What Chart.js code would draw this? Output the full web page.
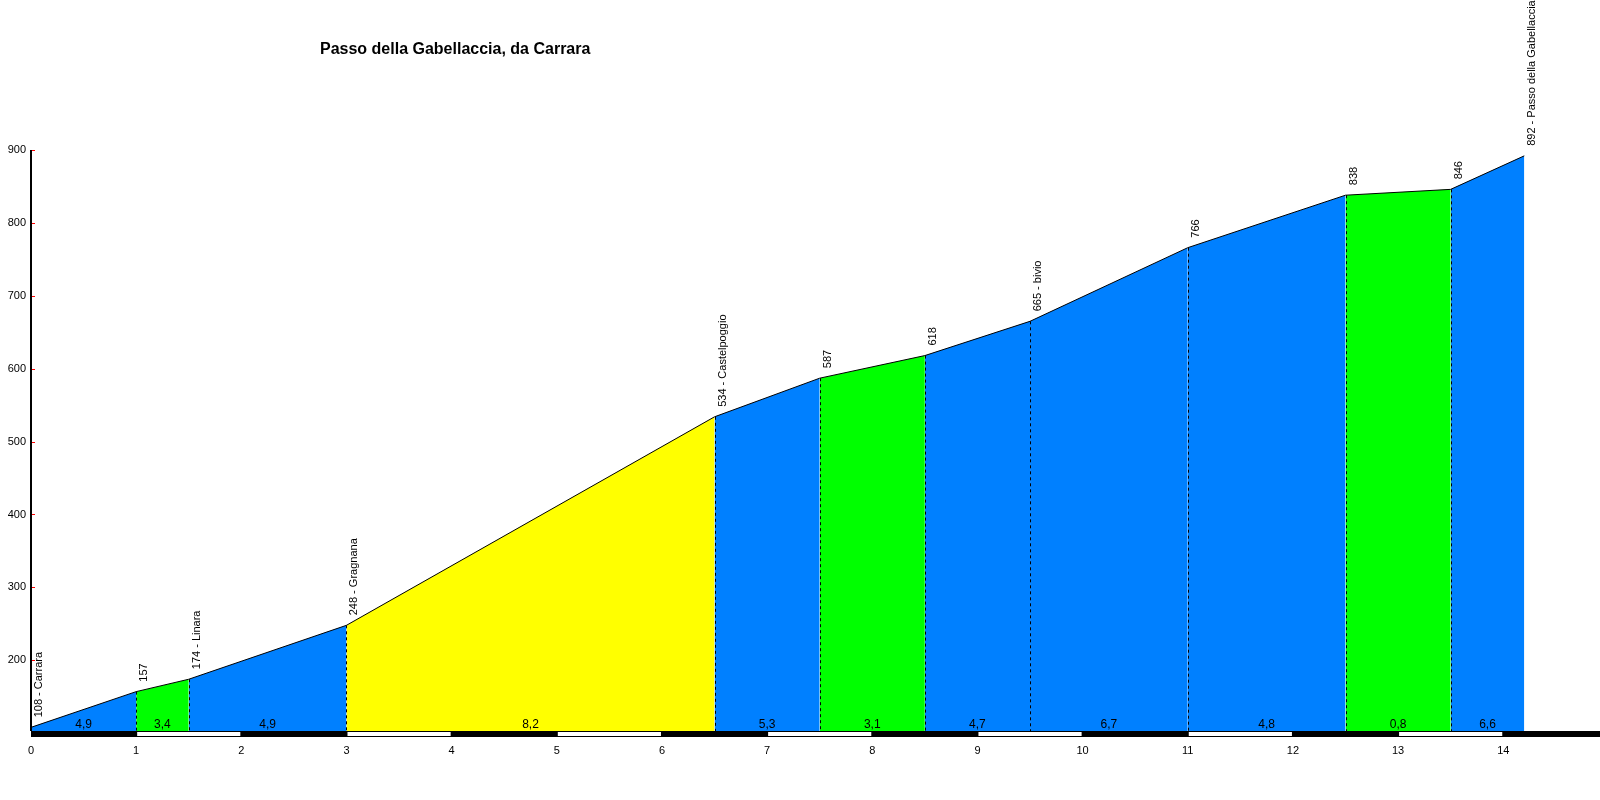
<!DOCTYPE html>
<html>
<head>
<meta charset="utf-8">
<title>Passo della Gabellaccia, da Carrara</title>
<script src="https://cdn.jsdelivr.net/npm/chart.js@4.4.0/dist/chart.umd.min.js"></script>
<style>
  html, body { margin: 0; padding: 0; background: #fff; }
  canvas { display: block; }
</style>
</head>
<body>
<canvas id="profilo" width="1600" height="800"></canvas>
<script>
const titolo = 'Passo della Gabellaccia, da Carrara';
const distanze = [0, 1, 1.5, 3, 6.5, 7.5, 8.5, 9.5, 11, 12.5, 13.5, 14.2];
const quote = [108, 157, 174, 248, 534, 587, 618, 665, 766, 838, 846, 892];
const localita = ['Carrara', '', 'Linara', 'Gragnana', 'Castelpoggio', '', '', 'bivio', '', '', '', 'Passo della Gabellaccia'];
const pendenze = [4.9, 3.4, 4.9, 8.2, 5.3, 3.1, 4.7, 6.7, 4.8, 0.8, 6.6];
const tickKm = [0, 1, 2, 3, 4, 5, 6, 7, 8, 9, 10, 11, 12, 13, 14];
const tickQuota = [200, 300, 400, 500, 600, 700, 800, 900];

const FONT = "'Liberation Sans', Arial, sans-serif";

// colore del tratto in base alla pendenza
function coloreTratto(p) {
    if (p < 4) return '#00ff00';
    if (p < 8) return '#0080ff';
    return '#ffff00';
}

const punti = distanze.map((d, i) => ({ x: d, y: quote[i] }));

const datasets = [{
    data: punti,
    borderColor: '#000',
    borderWidth: 1,
    pointRadius: 0,
    fill: false,
    tension: 0
}];

pendenze.forEach((p, i) => {
    datasets.push({
        data: [punti[i], punti[i + 1]],
        borderWidth: 0,
        pointRadius: 0,
        backgroundColor: coloreTratto(p),
        fill: 'start',
        tension: 0
    });
});

const disegnaExtra = {
    id: 'disegnaExtra',
    afterDatasetsDraw(chart) {
        const { ctx, chartArea } = chart;
        const xs = chart.scales.x;
        const ys = chart.scales.y;
        const fondo = chartArea.bottom;

        ctx.save();

        // linee tratteggiate ai cambi di tratto
        ctx.strokeStyle = '#000';
        ctx.lineWidth = 1;
        ctx.setLineDash([3, 3]);
        for (let i = 1; i < distanze.length - 1; i++) {
            const x = Math.round(xs.getPixelForValue(distanze[i])) + 0.5;
            ctx.beginPath();
            ctx.moveTo(x, ys.getPixelForValue(quote[i]));
            ctx.lineTo(x, fondo);
            ctx.stroke();
        }
        ctx.setLineDash([]);

        // pendenze dei tratti
        ctx.fillStyle = '#000';
        ctx.font = '12px ' + FONT;
        ctx.textAlign = 'center';
        ctx.textBaseline = 'middle';
        pendenze.forEach((p, i) => {
            const xm = xs.getPixelForValue((distanze[i] + distanze[i + 1]) / 2);
            ctx.fillText(p.toFixed(1).replace('.', ','), xm, fondo - 6);
        });

        // quote e località, testo verticale
        ctx.font = '11px ' + FONT;
        ctx.textAlign = 'left';
        ctx.textBaseline = 'alphabetic';
        distanze.forEach((d, i) => {
            const testo = localita[i] ? `${quote[i]} - ${localita[i]}` : `${quote[i]}`;
            ctx.save();
            ctx.translate(xs.getPixelForValue(d) + 11, ys.getPixelForValue(quote[i]) - 10);
            ctx.rotate(-Math.PI / 2);
            ctx.fillText(testo, 0, 0);
            ctx.restore();
        });

        // barra dei chilometri
        ctx.fillStyle = '#000';
        ctx.fillRect(chartArea.left, fondo, chartArea.right - chartArea.left, 6);
        ctx.fillStyle = '#fff';
        for (let k = 1; k < xs.max; k += 2) {
            const x1 = xs.getPixelForValue(k);
            const x2 = xs.getPixelForValue(Math.min(k + 1, xs.max));
            ctx.fillRect(x1 + 1, fondo + 1, x2 - x1 - 2, 4);
        }

        // asse verticale e tacche rosse
        const cima = ys.getPixelForValue(tickQuota[tickQuota.length - 1]);
        ctx.fillStyle = '#000';
        ctx.fillRect(chartArea.left - 1, cima, 2, fondo - cima);
        ctx.fillStyle = '#ff0000';
        tickQuota.forEach(q => {
            const y = Math.round(ys.getPixelForValue(q));
            ctx.fillRect(chartArea.left + 1, y, 3, 1);
        });

        // titolo
        ctx.fillStyle = '#000';
        ctx.font = 'bold 16px ' + FONT;
        ctx.textAlign = 'left';
        ctx.textBaseline = 'middle';
        ctx.fillText(titolo, 320, 50);

        ctx.restore();
    }
};

new Chart(document.getElementById('profilo'), {
    type: 'line',
    data: { datasets },
    options: {
        responsive: false,
        animation: false,
        layout: { padding: { top: 150, right: 0, bottom: 0, left: 0 } },
        plugins: {
            legend: { display: false },
            tooltip: { enabled: false },
            title: { display: false }
        },
        scales: {
            x: {
                type: 'linear',
                min: 0,
                max: 14.92,
                afterBuildTicks: s => { s.ticks = tickKm.map(v => ({ value: v })); },
                afterFit: s => { s.height = 69; },
                grid: { display: false, drawTicks: false, tickLength: 0 },
                border: { display: false },
                ticks: {
                    color: '#000',
                    font: { family: FONT, size: 11 },
                    padding: 13,
                    maxRotation: 0,
                    autoSkip: false
                }
            },
            y: {
                type: 'linear',
                min: 103,
                max: 900,
                afterBuildTicks: s => { s.ticks = tickQuota.map(v => ({ value: v })); },
                afterFit: s => { s.width = 31; },
                grid: { display: false, drawTicks: false, tickLength: 0 },
                border: { display: false },
                ticks: {
                    color: '#000',
                    font: { family: FONT, size: 11 },
                    padding: 5
                }
            }
        }
    },
    plugins: [disegnaExtra]
});
</script>
</body>
</html>
